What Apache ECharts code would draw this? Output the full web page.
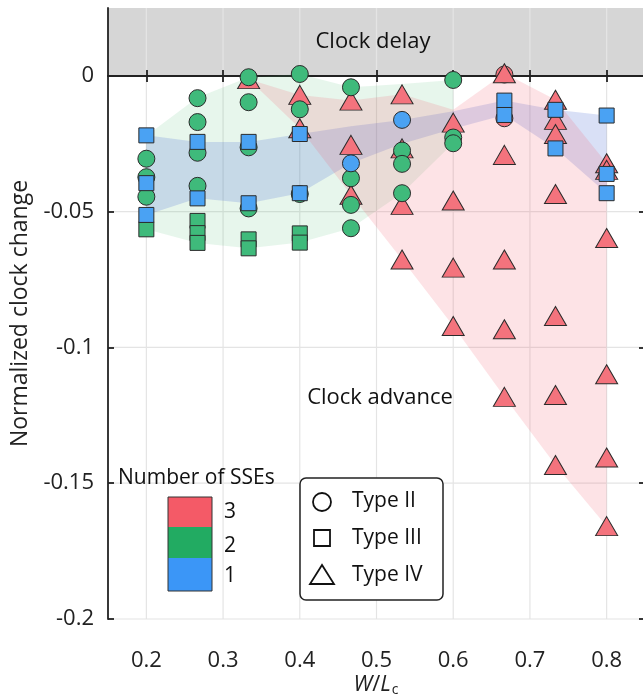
<!DOCTYPE html>
<html>
<head>
<meta charset="utf-8">
<script src="https://cdn.jsdelivr.net/npm/echarts@6/dist/echarts.min.js"></script>
<style>
  html, body { margin: 0; padding: 0; background: #fff; }
  #chart { width: 643px; height: 694px; }
</style>
</head>
<body>
<div id="chart"></div>
<script>
// ---- axis ticks ----
const xTicks = [0.2, 0.3, 0.4, 0.5, 0.6, 0.7, 0.8];
const yTicks = [-0.2, -0.15, -0.1, -0.05, 0];

// ---- points: [W/Lc, normalized clock change] by event type and number of SSEs ----
const typeII_sse3 = [[0.6667, 0.0005], [0.6667, -0.0156]];
const typeIV_sse3 = [
  [0.3333, -0.0012],
  [0.4, -0.0070], [0.4, -0.0193],
  [0.4667, -0.0091], [0.4667, -0.0254], [0.4667, -0.0438],
  [0.5333, -0.0068], [0.5333, -0.0267], [0.5333, -0.0475], [0.5333, -0.0676],
  [0.6, -0.0172], [0.6, -0.0459], [0.6, -0.0706], [0.6, -0.0921],
  [0.6667, 0.0010], [0.6667, -0.0291], [0.6667, -0.0676], [0.6667, -0.0933], [0.6667, -0.1182],
  [0.7333, -0.0088], [0.7333, -0.0162], [0.7333, -0.0214], [0.7333, -0.0435], [0.7333, -0.0884], [0.7333, -0.1175], [0.7333, -0.1433],
  [0.8, -0.0322], [0.8, -0.0346], [0.8, -0.0597], [0.8, -0.1099], [0.8, -0.1405], [0.8, -0.1658]
];
const typeII_sse2 = [
  [0.2, -0.0305], [0.2, -0.0373], [0.2, -0.0445],
  [0.2667, -0.0082], [0.2667, -0.0170], [0.2667, -0.0283], [0.2667, -0.0405],
  [0.3333, -0.0005], [0.3333, -0.0097], [0.3333, -0.0263], [0.3333, -0.0488],
  [0.4, 0.0007], [0.4, -0.0123], [0.4, -0.0435],
  [0.4667, -0.0042], [0.4667, -0.0377], [0.4667, -0.0475], [0.4667, -0.0561],
  [0.5333, -0.0275], [0.5333, -0.0324], [0.5333, -0.0432],
  [0.6, -0.0015], [0.6, -0.0227], [0.6, -0.0248]
];
const typeIII_sse2 = [
  [0.2, -0.0565],
  [0.2667, -0.0534], [0.2667, -0.0579], [0.2667, -0.0615],
  [0.3333, -0.0602], [0.3333, -0.0635],
  [0.4, -0.0580], [0.4, -0.0614]
];
const typeII_sse1 = [[0.4667, -0.0322], [0.5333, -0.0162]];
const typeIII_sse1 = [
  [0.2, -0.0219], [0.2, -0.0395], [0.2, -0.0512],
  [0.2667, -0.0243], [0.2667, -0.0451],
  [0.3333, -0.0243], [0.3333, -0.0469],
  [0.4, -0.0214], [0.4, -0.0432],
  [0.6667, -0.0091], [0.6667, -0.0144],
  [0.7333, -0.0125], [0.7333, -0.0267],
  [0.8, -0.0146], [0.8, -0.0361], [0.8, -0.0432]
];

// ---- range bands for each number of SSEs ----
const bandX_sse2 = [0.2, 0.2667, 0.3333, 0.4, 0.4667, 0.5333, 0.6];
const bandHi_sse2 = [-0.022, -0.008, -0.0005, 0.0007, -0.0042, -0.003, -0.0015];
const bandLo_sse2 = [-0.0565, -0.0615, -0.0635, -0.0614, -0.0561, -0.0432, -0.0248];

const bandX_sse1 = [0.2, 0.2667, 0.3333, 0.4, 0.4667, 0.5333, 0.6, 0.6667, 0.7333, 0.8];
const bandHi_sse1 = [-0.0219, -0.0243, -0.0243, -0.0214, -0.0185, -0.0162, -0.013, -0.0091, -0.0125, -0.0146];
const bandLo_sse1 = [-0.0512, -0.0451, -0.0469, -0.0432, -0.0322, -0.025, -0.0195, -0.0144, -0.0267, -0.0432];

const bandX_sse3 = [0.3333, 0.4, 0.4667, 0.5333, 0.6, 0.6667, 0.7333, 0.8];
const bandHi_sse3 = [-0.0012, -0.007, -0.0091, -0.0068, -0.0125, 0.001, -0.0088, -0.0322];
const bandLo_sse3 = [-0.0012, -0.0193, -0.0438, -0.0676, -0.0921, -0.1182, -0.1433, -0.1658];

const X_MIN = 0.15, X_MAX = 0.85, Y_MIN = -0.2, Y_MAX = 0.025;

const FONT = '"Open Sans", "DejaVu Sans", sans-serif';
const EDGE = '#2b2b2b';
const C3 = '#f4737d', C2 = '#3fba7b', C1 = '#4aa2f3';

const chart = echarts.init(document.getElementById('chart'), null, { renderer: 'canvas' });

function bandSeries(name, xs, hi, lo, fill) {
  return {
    type: 'custom', name: name, silent: true, z: 1,
    data: [[xs[0], hi[0]]],
    renderItem: function (params, api) {
      const pts = xs.map((x, i) => api.coord([x, hi[i]]));
      for (let i = xs.length - 1; i >= 0; i--) pts.push(api.coord([xs[i], lo[i]]));
      return { type: 'polygon', shape: { points: pts }, style: { fill: fill } };
    }
  };
}

function scatter(name, data, symbol, size, color) {
  return {
    type: 'scatter', name: name, data: data, symbol: symbol, symbolSize: size, z: 5,
    itemStyle: { color: color, borderColor: EDGE, borderWidth: 1, opacity: 1 },
    emphasis: { disabled: true }
  };
}

const axisLineStyle = { color: '#222', width: 1.8 };

const option = {
  animation: false,
  backgroundColor: '#fff',
  textStyle: { fontFamily: FONT },
  grid: { left: 108, top: 8, width: 537, bottom: 75, containLabel: false, outerBoundsMode: 'none' },
  xAxis: [{
    type: 'value', min: X_MIN, max: X_MAX, position: 'bottom',
    axisLine: { lineStyle: axisLineStyle },
    axisTick: { inside: true, length: 6, customValues: xTicks, lineStyle: axisLineStyle },
    axisLabel: { customValues: xTicks, color: '#222', fontSize: 22, margin: 31, fontFamily: FONT,
      formatter: v => String(+v.toFixed(1)) },
    splitLine: { show: false }
  }, {
    type: 'value', min: X_MIN, max: X_MAX, position: 'top',
    axisLine: { lineStyle: axisLineStyle },
    axisTick: { inside: true, length: 6, customValues: xTicks, lineStyle: axisLineStyle },
    axisLabel: { show: false },
    splitLine: { show: false }
  }],
  yAxis: [{
    type: 'value', min: Y_MIN, max: Y_MAX, position: 'left',
    axisLine: { lineStyle: axisLineStyle },
    axisTick: { inside: true, length: 6, customValues: yTicks, lineStyle: axisLineStyle },
    axisLabel: { customValues: yTicks, color: '#222', fontSize: 22, margin: 14, fontFamily: FONT,
      formatter: v => String(+v.toFixed(2)) },
    splitLine: { show: false },
    name: 'Normalized clock change', nameLocation: 'middle', nameGap: 76,
    nameTextStyle: { color: '#222', fontSize: 23, fontFamily: FONT }
  }, {
    type: 'value', min: Y_MIN, max: Y_MAX, position: 'right',
    axisLine: { lineStyle: axisLineStyle },
    axisTick: { inside: true, length: 6, customValues: yTicks, lineStyle: axisLineStyle },
    axisLabel: { show: false },
    splitLine: { show: false }
  }],
  series: [
    // shaded "clock delay" zone above zero
    {
      type: 'custom', name: 'delay', silent: true, z: 0,
      data: [[X_MIN, 0]],
      renderItem: function (params, api) {
        const a = api.coord([X_MIN, Y_MAX]);
        const b = api.coord([X_MAX, 0]);
        return { type: 'rect', shape: { x: a[0], y: a[1], width: b[0] - a[0], height: b[1] - a[1] },
          style: { fill: '#d6d6d6' } };
      }
    },
    // grid lines at tick positions
    {
      type: 'custom', name: 'grid', silent: true, z: 0,
      data: [[X_MIN, Y_MIN]],
      renderItem: function (params, api) {
        const children = [];
        xTicks.forEach(x => {
          const p = api.coord([x, Y_MIN]), q = api.coord([x, Y_MAX]);
          children.push({ type: 'line', shape: { x1: p[0], y1: p[1], x2: q[0], y2: q[1] },
            style: { stroke: '#e4e4e4', lineWidth: 1.2 } });
        });
        yTicks.forEach(y => {
          const p = api.coord([X_MIN, y]), q = api.coord([X_MAX, y]);
          children.push({ type: 'line', shape: { x1: p[0], y1: p[1], x2: q[0], y2: q[1] },
            style: { stroke: '#e4e4e4', lineWidth: 1.2 } });
        });
        return { type: 'group', children: children };
      }
    },
    bandSeries('band2', bandX_sse2, bandHi_sse2, bandLo_sse2, 'rgba(60,180,95,0.12)'),
    bandSeries('band1', bandX_sse1, bandHi_sse1, bandLo_sse1, 'rgba(80,115,215,0.22)'),
    bandSeries('band3', bandX_sse3, bandHi_sse3, bandLo_sse3, 'rgba(245,90,105,0.17)'),
    scatter('Type II, 3', typeII_sse3, 'circle', 17, C3),
    scatter('Type IV, 3', typeIV_sse3, 'triangle', [22, 19], C3),
    scatter('Type II, 2', typeII_sse2, 'circle', 17, C2),
    scatter('Type III, 2', typeIII_sse2, 'rect', 15, C2),
    scatter('Type II, 1', typeII_sse1, 'circle', 17, C1),
    scatter('Type III, 1', typeIII_sse1, 'rect', 15, C1)
  ],
  graphic: [
    // x-axis title W/Lc
    { type: 'text', x: 376, y: 685, z: 10, style: {
        text: '{i|W}{n|/}{i|L}{s|c}', align: 'center', verticalAlign: 'middle',
        rich: {
          i: { fontStyle: 'italic', fontSize: 22, fontFamily: FONT, fill: '#222' },
          n: { fontSize: 22, fontFamily: FONT, fill: '#222' },
          s: { fontSize: 14, fontFamily: FONT, fill: '#222', padding: [10, 0, 0, 1] }
        } } },
    { type: 'text', x: 373, y: 42, z: 10, style: { text: 'Clock delay', font: '22px ' + FONT, fill: '#111', align: 'center', verticalAlign: 'middle' } },
    { type: 'text', x: 380, y: 398, z: 10, style: { text: 'Clock advance', font: '22px ' + FONT, fill: '#111', align: 'center', verticalAlign: 'middle' } },
    // colour key for number of SSEs
    { type: 'text', x: 118, y: 478, z: 10, style: { text: 'Number of SSEs', font: '21px ' + FONT, fill: '#111', align: 'left', verticalAlign: 'middle' } },
    { type: 'rect', z: 10, shape: { x: 168, y: 497, width: 44, height: 30 }, style: { fill: '#f45a67' } },
    { type: 'rect', z: 10, shape: { x: 168, y: 527, width: 44, height: 31 }, style: { fill: '#22ab62' } },
    { type: 'rect', z: 10, shape: { x: 168, y: 558, width: 44, height: 33 }, style: { fill: '#3b96f7' } },
    { type: 'rect', z: 11, shape: { x: 168, y: 497, width: 44, height: 94 }, style: { fill: 'none', stroke: '#333', lineWidth: 1 } },
    { type: 'text', x: 224, y: 512, z: 10, style: { text: '3', font: '21px ' + FONT, fill: '#111', verticalAlign: 'middle' } },
    { type: 'text', x: 224, y: 546, z: 10, style: { text: '2', font: '21px ' + FONT, fill: '#111', verticalAlign: 'middle' } },
    { type: 'text', x: 224, y: 576, z: 10, style: { text: '1', font: '21px ' + FONT, fill: '#111', verticalAlign: 'middle' } },
    // marker key for event type
    { type: 'rect', z: 10, shape: { x: 300, y: 478, width: 143, height: 122, r: 6 }, style: { fill: '#fff', stroke: '#222', lineWidth: 1.5 } },
    { type: 'circle', z: 11, shape: { cx: 322, cy: 502, r: 9 }, style: { fill: '#fff', stroke: '#111', lineWidth: 1.8 } },
    { type: 'rect', z: 11, shape: { x: 314, y: 530, width: 16, height: 16 }, style: { fill: '#fff', stroke: '#111', lineWidth: 1.8 } },
    { type: 'polygon', z: 11, shape: { points: [[322, 565], [310, 584], [334, 584]] }, style: { fill: '#fff', stroke: '#111', lineWidth: 1.8 } },
    { type: 'text', x: 352, y: 501, z: 11, style: { text: 'Type II', font: '21px ' + FONT, fill: '#111', verticalAlign: 'middle' } },
    { type: 'text', x: 352, y: 538, z: 11, style: { text: 'Type III', font: '21px ' + FONT, fill: '#111', verticalAlign: 'middle' } },
    { type: 'text', x: 352, y: 575, z: 11, style: { text: 'Type IV', font: '21px ' + FONT, fill: '#111', verticalAlign: 'middle' } }
  ]
};

chart.setOption(option);
</script>
</body>
</html>
